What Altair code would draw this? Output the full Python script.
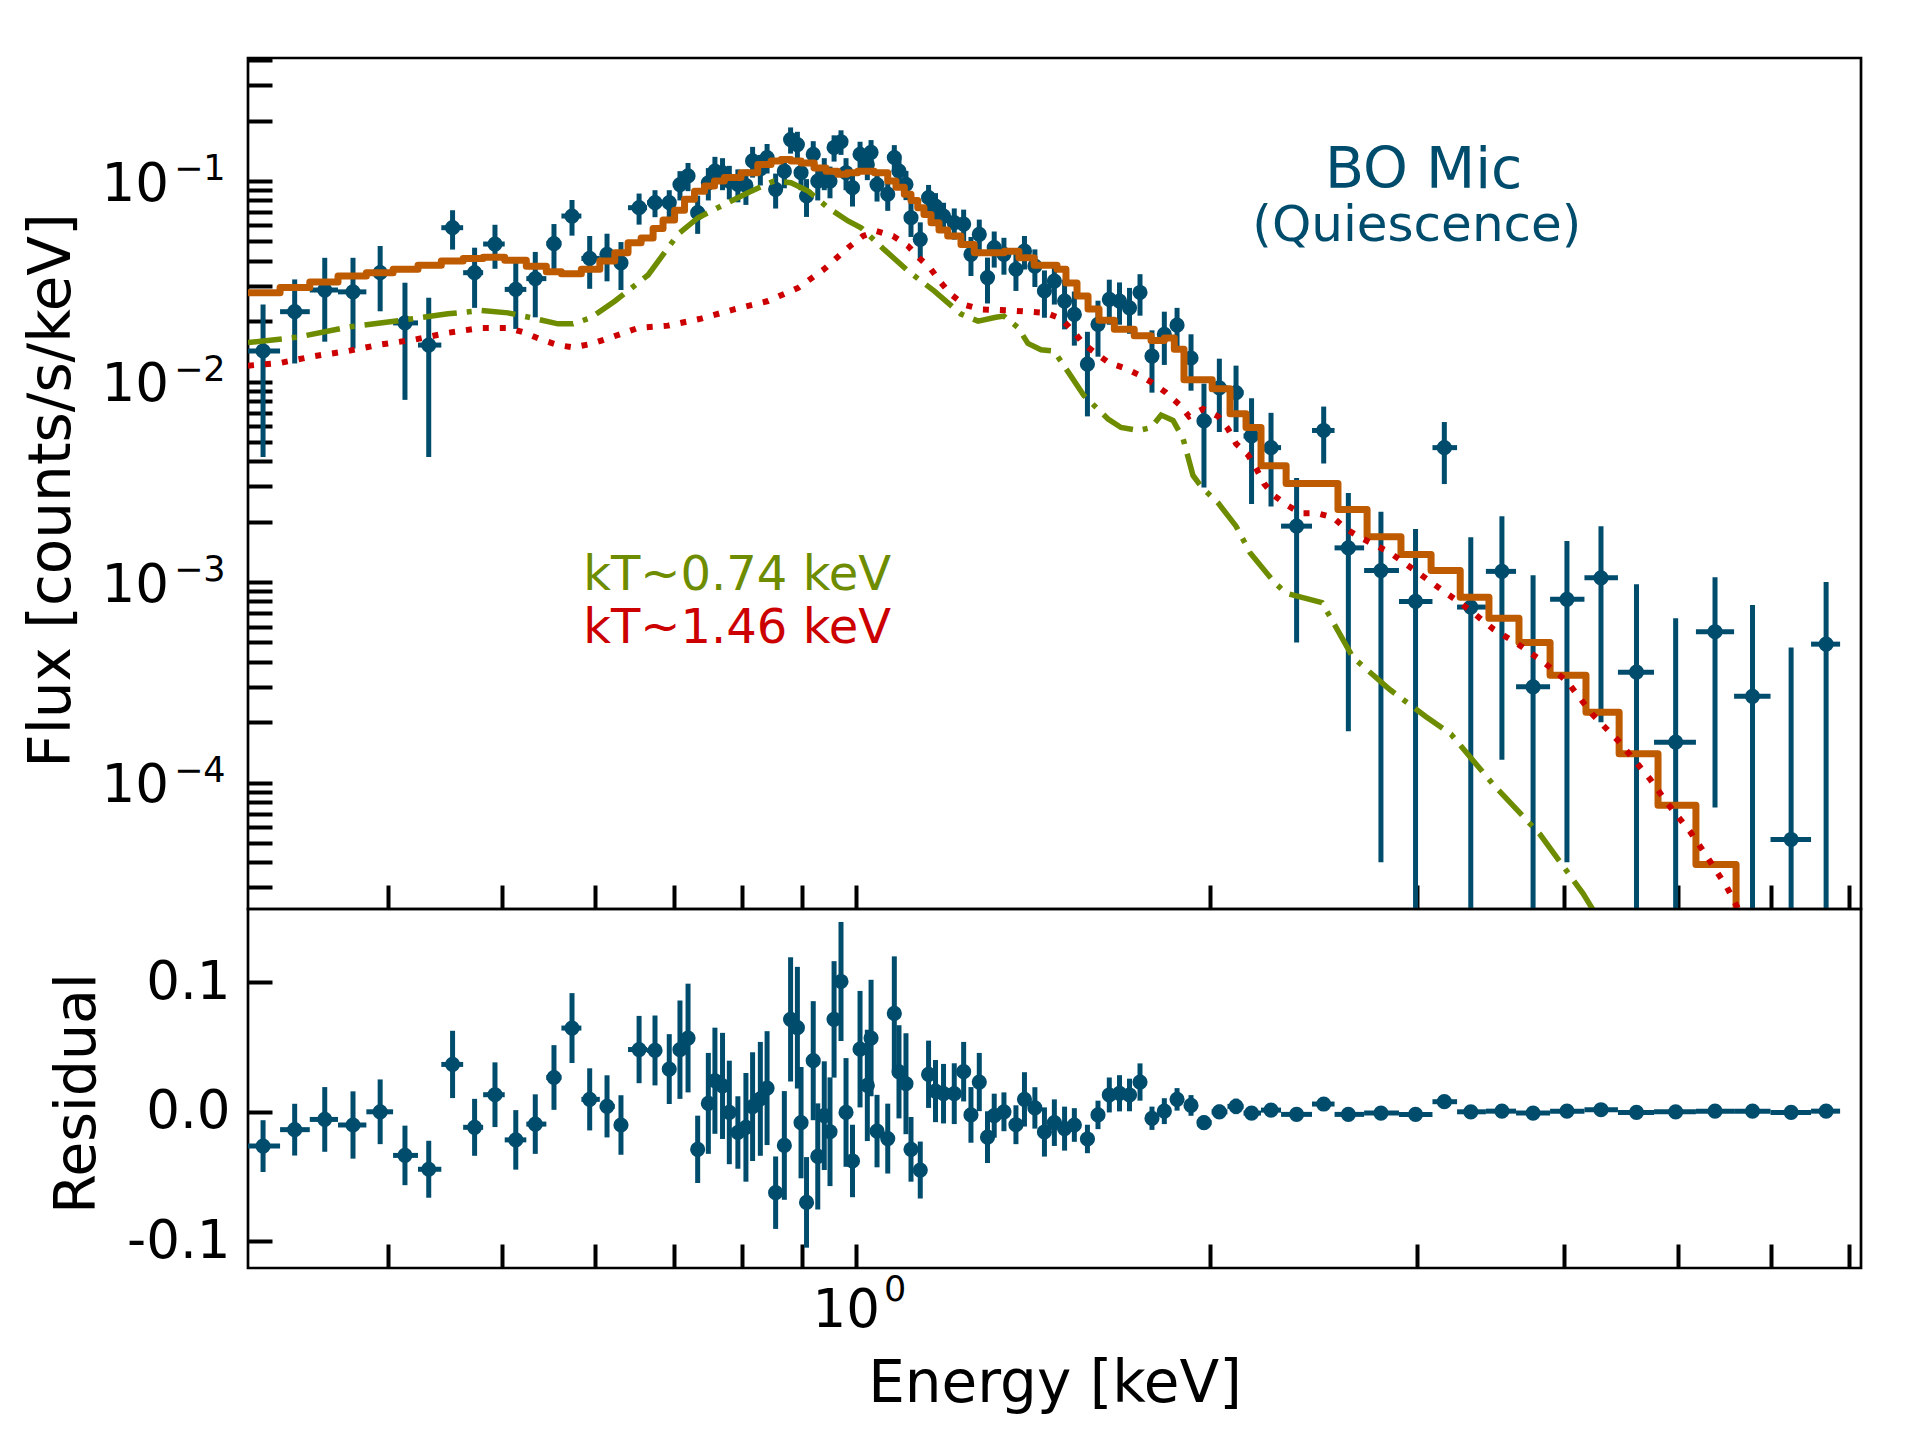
import altair as alt
import numpy as np
import pandas as pd

# ---------------- data ----------------
energy = [0.3130, 0.3330, 0.3532, 0.3733, 0.3937, 0.4133, 0.4330, 0.4537, 0.4737, 0.4930,
          0.5135, 0.5335, 0.5534, 0.5733, 0.5935, 0.6140, 0.6310, 0.6538, 0.6745, 0.6936,
          0.7083, 0.7196, 0.7333, 0.7488, 0.7585, 0.7699, 0.7802, 0.7934, 0.8060, 0.8166,
          0.8291, 0.8401, 0.8543, 0.8690, 0.8797, 0.8915, 0.8979, 0.9076, 0.9196, 0.9278,
          0.9397, 0.9503, 0.9579, 0.9710, 0.9806, 0.9931, 1.0079, 1.0224, 1.0299, 1.0420,
          1.0641, 1.0779, 1.0878, 1.1028, 1.1137, 1.1341, 1.1527, 1.1684, 1.1870, 1.2122,
          1.2347, 1.2525, 1.2731, 1.2938, 1.3109, 1.3361, 1.3679, 1.3909, 1.4196, 1.4464,
          1.4748, 1.5046, 1.5337, 1.5735, 1.6064, 1.6424, 1.6756, 1.7087, 1.7442, 1.7856,
          1.8293, 1.8755, 1.9275, 1.9770, 2.0375, 2.1052, 2.1702, 2.2545, 2.3704, 2.4996,
          2.6233, 2.7962, 2.9923, 3.1659, 3.3343, 3.5440, 3.767, 4.0254, 4.3030, 4.613,
          4.9808, 5.380, 5.790, 6.2448, 6.688]

bin_edges = [0.3039, 0.3236, 0.3430, 0.3625, 0.3832, 0.4038, 0.4240, 0.4438, 0.4632, 0.4817,
             0.5025, 0.5242, 0.5452, 0.5615, 0.5839, 0.6054, 0.6234, 0.6398, 0.6641, 0.6839,
             0.7009, 0.7140, 0.7265, 0.7410, 0.7542, 0.7647, 0.7751, 0.7867, 0.7998, 0.8110,
             0.8230, 0.8342, 0.8466, 0.8615, 0.8743, 0.8857, 0.8943, 0.9026, 0.9138, 0.9236,
             0.9337, 0.9447, 0.9541, 0.9645, 0.9759, 0.9863, 1.0000, 1.0148, 1.0259, 1.0359,
             1.0522, 1.0710, 1.0826, 1.0954, 1.1084, 1.1236, 1.1436, 1.1607, 1.1776, 1.1997,
             1.2235, 1.2442, 1.2624, 1.2838, 1.3025, 1.3234, 1.3521, 1.3789, 1.4060, 1.4338,
             1.4609, 1.4898, 1.5192, 1.5538, 1.5908, 1.6238, 1.6594, 1.6922, 1.7273, 1.7649,
             1.8069, 1.8514, 1.9011, 1.9521, 2.0068, 2.0701, 2.1363, 2.2108, 2.2993, 2.4430,
             2.5533, 2.7055, 2.8967, 3.0932, 3.2458, 3.4345, 3.6434, 3.8946, 4.1658, 4.4484,
             4.7742, 5.1826, 5.5847, 5.9979, 6.4935, 6.8738]

flux = [0.0142, 0.0223, 0.0286, 0.0280, 0.0349, 0.0196, 0.0152, 0.0585, 0.0349, 0.0485,
        0.0288, 0.0326, 0.0487, 0.0669, 0.0411, 0.0431, 0.0391, 0.0736, 0.0780, 0.0780,
        0.0960, 0.1060, 0.0695, 0.0980, 0.1120, 0.1100, 0.1000, 0.0963, 0.0950, 0.1260,
        0.1150, 0.1310, 0.0909, 0.1120, 0.1610, 0.1520, 0.1100, 0.0842, 0.1360, 0.1000,
        0.1100, 0.1000, 0.1470, 0.1570, 0.1100, 0.0926, 0.1360, 0.1210, 0.1390, 0.0960,
        0.0860, 0.1310, 0.1120, 0.0963, 0.0656, 0.0512, 0.0826, 0.0750, 0.0669, 0.0620,
        0.0610, 0.0431, 0.0542, 0.0330, 0.0465, 0.0431, 0.0363, 0.0447, 0.0376, 0.0283,
        0.0317, 0.0252, 0.0216, 0.0122, 0.0193, 0.0257, 0.0252, 0.0233, 0.0278, 0.0134,
        0.0172, 0.0191, 0.0131, 0.00636, 0.0093, 0.0088, 0.00535, 0.00468, 0.0019, 0.0057,
        0.00148, 0.00114, 0.0008, 0.00468, 0.00075, 0.00113, 0.0003, 0.00082, 0.00105, 0.000355,
        0.000159, 0.000565, 0.000269, 0.000052, 0.00049]

flux_err = [0.010, 0.010, 0.0128, 0.0134, 0.0125, 0.0115, 0.011, 0.013, 0.0116, 0.012,
            0.0105, 0.0117, 0.0123, 0.0135, 0.0121, 0.0115, 0.0105, 0.013, 0.012, 0.012,
            0.016, 0.017, 0.015, 0.018, 0.020, 0.020, 0.019, 0.018, 0.019, 0.022,
            0.020, 0.022, 0.018, 0.020, 0.024, 0.024, 0.020, 0.018, 0.022, 0.020,
            0.020, 0.018, 0.022, 0.022, 0.020, 0.018, 0.021, 0.020, 0.021, 0.017,
            0.015, 0.020, 0.018, 0.016, 0.013, 0.011, 0.013, 0.012, 0.011, 0.011,
            0.011, 0.0095, 0.010, 0.0085, 0.0095, 0.009, 0.008, 0.0085, 0.008, 0.0075,
            0.0075, 0.007, 0.0065, 0.0055, 0.006, 0.0065, 0.006, 0.006, 0.0065, 0.0046,
            0.0051, 0.0042, 0.0041, 0.0034, 0.0037, 0.0032, 0.0029, 0.0023, 0.0014, 0.0018,
            0.0013, 0.0011, 0.00104, 0.0016, 0.00092, 0.0010, 0.00078, 0.00078, 0.00085, 0.00062,
            0.0005, 0.00049, 0.0005, 0.00042, 0.00051]

resid = [-0.0265, -0.0138, -0.0059, -0.0102, 0.0000, -0.0337, -0.0444, 0.0366, -0.0120, 0.0132,
         -0.0217, -0.0095, 0.0265, 0.0647, 0.0096, 0.0042, -0.0102, 0.0481, 0.0474, 0.0330,
         0.0480, 0.0570, -0.0290, 0.0065, 0.0240, 0.0200, -0.0005, -0.0160, -0.0120, 0.0040,
         0.0100, 0.0183, -0.0625, -0.0260, 0.0714, 0.0650, -0.0084, -0.0700, 0.0395, -0.0345,
         -0.0030, -0.0154, 0.0714, 0.1007, -0.0005, -0.0380, 0.0484, 0.0204, 0.0570, -0.0149,
         -0.0207, 0.0761, 0.0309, 0.0217, -0.0290, -0.0450, 0.0290, 0.0160, 0.0140, 0.0140,
         0.0310, -0.0024, 0.0230, -0.0196, -0.0030, 0.0000, -0.0100, 0.0096, 0.0030, -0.0156,
         -0.0084, -0.0130, -0.0102, -0.0210, -0.0024, 0.0130, 0.0143, 0.0130, 0.0230, -0.0050,
         0.0005, 0.0096, 0.0049, -0.0084, 0.0000, 0.0042, -0.0010, 0.0013, -0.0020, 0.0060,
         -0.0020, -0.0010, -0.0020, 0.0078, 0.0000, 0.0005, -0.0010, 0.0005, 0.0016, -0.0005,
         0.0000, 0.0005, 0.0005, -0.0005, 0.0005]

resid_err = [0.020, 0.020, 0.025, 0.026, 0.025, 0.023, 0.022, 0.026, 0.022, 0.025,
             0.023, 0.023, 0.025, 0.027, 0.024, 0.024, 0.023, 0.026, 0.027, 0.027,
             0.038, 0.042, 0.026, 0.039, 0.041, 0.041, 0.040, 0.028, 0.042, 0.042,
             0.044, 0.044, 0.028, 0.042, 0.048, 0.047, 0.043, 0.035, 0.046, 0.041,
             0.042, 0.042, 0.045, 0.046, 0.042, 0.028, 0.045, 0.043, 0.045, 0.028,
             0.027, 0.044, 0.036, 0.039, 0.025, 0.022, 0.026, 0.024, 0.023, 0.0235,
             0.023, 0.0215, 0.0225, 0.020, 0.017, 0.015, 0.015, 0.021, 0.016, 0.019,
             0.018, 0.017, 0.013, 0.011, 0.011, 0.0135, 0.014, 0.0126, 0.0144, 0.009,
             0.010, 0.0087, 0.008, 0.0055, 0.0055, 0.006, 0.004, 0.004, 0.003, 0.003,
             0.0025, 0.0022, 0.002, 0.003, 0.0018, 0.002, 0.0015, 0.0015, 0.0015, 0.0012,
             0.001, 0.001, 0.001, 0.0008, 0.001]

# total model (step): start energy of each step and its level
model_E = [0.3039, 0.3236, 0.3430, 0.3625, 0.3832, 0.4038, 0.4240, 0.4438, 0.4632, 0.4817,
           0.5025, 0.5242, 0.5452, 0.5615, 0.5839, 0.6054, 0.6234, 0.6398, 0.6564, 0.6720,
           0.6852, 0.7009, 0.7147, 0.7288, 0.7432, 0.7578, 0.7726, 0.7983, 0.8249, 0.8466,
           0.8633, 0.8804, 0.8979, 0.9215, 0.9430, 0.9647, 0.9824, 1.0033, 1.0366, 1.0641,
           1.0814, 1.0992, 1.1137, 1.1285, 1.1424, 1.1583, 1.1765, 1.1967, 1.2283, 1.2606,
           1.3025, 1.3370, 1.3759, 1.4177, 1.4825, 1.5087, 1.5417, 1.5754, 1.6096, 1.6586,
           1.7246, 1.7824, 1.8293, 1.8655, 1.9011, 2.0091, 2.0806, 2.1468, 2.2108, 2.3222,
           2.5704, 2.7213, 2.9081, 3.0847, 3.2659, 3.4551, 3.6644, 3.8946, 4.1783, 4.4587,
           4.8117, 5.1826, 5.6066, 6.2448]
model_E_end = 7.161
model_flux = [0.0277, 0.0294, 0.0314, 0.0336, 0.0349, 0.0363, 0.0380, 0.0399, 0.0411, 0.0417,
              0.0402, 0.0376, 0.0353, 0.0345, 0.0363, 0.0399, 0.0439, 0.0492, 0.0520, 0.0580,
              0.0640, 0.0714, 0.0810, 0.0890, 0.0944, 0.1000, 0.1040, 0.1100, 0.1210, 0.1260,
              0.1280, 0.1260, 0.1230, 0.1160, 0.1120, 0.1080, 0.1100, 0.1120, 0.1100, 0.1000,
              0.0930, 0.0860, 0.0800, 0.0736, 0.0680, 0.0620, 0.0570, 0.0532, 0.0483, 0.0439,
              0.0439, 0.0447, 0.0414, 0.0380, 0.0363, 0.0310, 0.0267, 0.0230, 0.0202, 0.0182,
              0.0169, 0.0160, 0.0165, 0.0145, 0.0102, 0.0092, 0.0069, 0.0059, 0.0038, 0.0031,
              0.0023, 0.00168, 0.00137, 0.00114, 0.00084, 0.00066, 0.0005, 0.000343, 0.000224, 0.000139,
              0.000077, 0.000039, 0.000016, 0.000008]

# cooler component kT~0.74 keV (dash-dot)
comp1_E = [0.3039, 0.3351, 0.3697, 0.4078, 0.4496, 0.4797, 0.5058, 0.5291, 0.5578, 0.5745,
           0.5950, 0.6237, 0.6655, 0.7057, 0.7339, 0.7676, 0.8092, 0.8514, 0.8804, 0.9103,
           0.9467, 0.9845, 1.0099, 1.0564, 1.1072, 1.1652, 1.2283, 1.2700, 1.3151, 1.3361,
           1.3733, 1.4004, 1.4367, 1.4737, 1.5146, 1.5631, 1.6383, 1.6804, 1.7402, 1.7824,
           1.8178, 1.8607, 1.8975, 1.9350, 1.9656, 2.0324, 2.1052, 2.1637, 2.2678, 2.3222,
           2.4912, 2.6478, 2.8467, 3.0543, 3.2077, 3.4880, 3.8197, 4.1535, 4.3030]
comp1_flux = [0.01563, 0.01665, 0.01869, 0.0201, 0.02175, 0.0226, 0.0220, 0.0208, 0.0194, 0.0194,
              0.0208, 0.0252, 0.0340, 0.0543, 0.0656, 0.0750, 0.0874, 0.1000, 0.0980, 0.0892,
              0.0736, 0.0632, 0.0585, 0.0456, 0.0356, 0.0283, 0.0217, 0.0200, 0.0209, 0.0212,
              0.0186, 0.0155, 0.0144, 0.0142, 0.0112, 0.0085, 0.0065, 0.0059, 0.0057, 0.0059,
              0.0068, 0.0064, 0.0052, 0.0034, 0.0030, 0.00248, 0.0019, 0.0014, 0.0010, 0.00088,
              0.00079, 0.00042, 0.00029, 0.000213, 0.000174, 0.000097, 0.000055, 0.000028, 0.000020]

# hotter component kT~1.46 keV (dotted)
comp2_E = [0.3039, 0.3241, 0.3465, 0.3697, 0.3944, 0.4215, 0.4496, 0.4797, 0.5058, 0.5229,
           0.5395, 0.5578, 0.5745, 0.5950, 0.6151, 0.6525, 0.6920, 0.7381, 0.7873, 0.8415,
           0.8927, 0.9393, 0.9863, 1.0139, 1.0399, 1.0752, 1.1072, 1.1315, 1.1583, 1.1811,
           1.2044, 1.2355, 1.2773, 1.3547, 1.4506, 1.4941, 1.5296, 1.5599, 1.6003, 1.6414,
           1.6904, 1.7402, 1.7894, 1.8355, 1.8827, 1.9199, 1.9733, 2.0324, 2.0725, 2.1052,
           2.1552, 2.1892, 2.2238, 2.2678, 2.3313, 2.3909, 2.4717, 2.5457, 2.6115, 2.6791,
           2.8467, 2.9834, 3.1702, 3.3228, 3.4880, 3.6577, 3.8418, 4.0254, 4.2276, 4.4575,
           4.6261, 4.7370, 4.9068, 5.1230, 5.3065, 5.5081, 5.6610]
comp2_flux = [0.0120, 0.0124, 0.0134, 0.0142, 0.0153, 0.0162, 0.0175, 0.0185, 0.0185, 0.0175,
              0.0162, 0.0152, 0.0148, 0.0154, 0.0164, 0.0185, 0.0190, 0.0206, 0.0229, 0.0252,
              0.0293, 0.0363, 0.0469, 0.0532, 0.0563, 0.0532, 0.0474, 0.0414, 0.0363, 0.0311,
              0.0272, 0.0242, 0.0229, 0.0226, 0.0220, 0.0206, 0.0179, 0.0155, 0.0138, 0.0124,
              0.0117, 0.0108, 0.0098, 0.0088, 0.0077, 0.0067, 0.0073, 0.0067, 0.0058, 0.0049,
              0.0043, 0.0037, 0.0031, 0.0027, 0.0024, 0.0022, 0.0022, 0.0021, 0.00184, 0.00168,
              0.0014, 0.00115, 0.00089, 0.00073, 0.00058, 0.00049, 0.00040, 0.00032, 0.00022, 0.00016,
              0.000123, 0.000104, 0.000078, 0.000057, 0.000042, 0.000030, 0.000022]

# ticks and tick labels
x_tick_values = [0.4, 0.5, 0.6, 0.7, 0.8, 0.9, 1, 2, 3, 4, 5, 6, 7]
x_label_values = [1.0]
x_label_exponents = ["0"]
flux_tick_values = [3e-5, 4e-5, 5e-5, 6e-5, 7e-5, 8e-5, 9e-5,
                    1e-4, 2e-4, 3e-4, 4e-4, 5e-4, 6e-4, 7e-4, 8e-4, 9e-4,
                    1e-3, 2e-3, 3e-3, 4e-3, 5e-3, 6e-3, 7e-3, 8e-3, 9e-3,
                    1e-2, 2e-2, 3e-2, 4e-2, 5e-2, 6e-2, 7e-2, 8e-2, 9e-2,
                    0.1, 0.2, 0.3, 0.4]
flux_label_values = [1e-4, 1e-3, 1e-2, 1e-1]
flux_label_exponents = ["\u22124", "\u22123", "\u22122", "\u22121"]
resid_tick_values = [-0.1, 0.0, 0.1]
resid_tick_labels = {-0.1: "-0.1", 0.0: "0.0", 0.1: "0.1"}

# ---------------- styling ----------------
TEAL = "#004c6d"
ORANGE = "#be5a00"
OLIVE = "#6e8c00"
RED = "#cc0000"
FONT = "DejaVu Sans"
W, H1, H2 = 1613, 851, 359
TICK, TW = 24, 4
LBL, SUP, TTL = 53, 35, 58

pts = pd.DataFrame({"E": energy, "E_lo": bin_edges[:-1], "E_hi": bin_edges[1:],
                    "F": flux, "dF": flux_err, "R": resid, "dR": resid_err})
pts["F_lo"] = np.maximum(pts["F"] - pts["dF"], 1e-9)
pts["F_hi"] = pts["F"] + pts["dF"]
pts["R_lo"] = pts["R"] - pts["dR"]
pts["R_hi"] = pts["R"] + pts["dR"]

tot = pd.DataFrame({"E": model_E + [model_E_end], "F": model_flux + [model_flux[-1]]})
c1 = pd.DataFrame({"E": comp1_E, "F": comp1_flux})
c2 = pd.DataFrame({"E": comp2_E, "F": comp2_flux})
ylab = pd.DataFrame({"F": flux_label_values, "exp": flux_label_exponents})
xlab = pd.DataFrame({"E": x_label_values, "exp": x_label_exponents})


def label_expr(mapping):
    parts = [f"datum.value == {k} ? '{v}'" for k, v in mapping.items()]
    return " : ".join(parts) + " : ''"


xs = alt.Scale(type="log", domain=[0.3039, 7.161], nice=False)
ys = alt.Scale(type="log", domain=[2.34e-5, 0.4107], nice=False)
rs = alt.Scale(type="linear", domain=[-0.1207, 0.1567], nice=False, zero=False)

common = dict(tickSize=TICK, tickWidth=TW, tickColor="black", offset=-TICK,
              domain=False, grid=False)

AX_FX = alt.Axis(values=x_tick_values, labels=False, title=None, **common)
AX_FY = alt.Axis(values=flux_tick_values, labels=False, title="Flux [counts/s/keV]",
                 titleFontSize=TTL, titleFontWeight="normal", titleAngle=270,
                 titleAlign="center", titleBaseline="alphabetic", titleX=-203, titleY=432,
                 **common)
AX_RX = alt.Axis(values=x_tick_values, labels=False, title="Energy [keV]",
                 titleFontSize=TTL, titleFontWeight="normal", titleBaseline="alphabetic",
                 titleY=157, **common)
AX_RY = alt.Axis(values=resid_tick_values, labelExpr=label_expr(resid_tick_labels),
                 labelFontSize=LBL, labelPadding=18, labelOverlap=False, labelFlush=False,
                 title="Residual",
                 titleFontSize=57, titleFontWeight="normal", titleAngle=270,
                 titleAlign="center", titleBaseline="alphabetic", titleX=-178, titleY=184,
                 **common)


def fx(f):
    return alt.X(f, type="quantitative", scale=xs, axis=AX_FX)


def fy(f):
    return alt.Y(f, type="quantitative", scale=ys, axis=AX_FY)


def rx(f):
    return alt.X(f, type="quantitative", scale=xs, axis=AX_RX)


def ry(f):
    return alt.Y(f, type="quantitative", scale=rs, axis=AX_RY)


base = alt.Chart(pts)
f_xerr = base.mark_rule(color=TEAL, strokeWidth=5, clip=True).encode(
    x=fx("E_lo"), x2=alt.X2("E_hi"), y=fy("F"))
f_yerr = base.mark_rule(color=TEAL, strokeWidth=5, clip=True).encode(
    x=fx("E"), y=fy("F_lo"), y2=alt.Y2("F_hi"))
f_dots = base.mark_circle(size=230, color=TEAL, opacity=1, clip=True).encode(
    x=fx("E"), y=fy("F"))
l_tot = alt.Chart(tot).mark_line(interpolate="step-after", color=ORANGE, strokeWidth=7,
                                 strokeJoin="round", clip=True).encode(x=fx("E"), y=fy("F"))
l_c1 = alt.Chart(c1).mark_line(color=OLIVE, strokeWidth=5.5, strokeDash=[34, 10, 5, 10],
                               clip=True).encode(x=fx("E"), y=fy("F"))
l_c2 = alt.Chart(c2).mark_line(color=RED, strokeWidth=6, strokeDash=[6, 11],
                               clip=True).encode(x=fx("E"), y=fy("F"))


def txt(e, f, s, size, color, align):
    return alt.Chart(pd.DataFrame({"E": [e], "F": [f]})).mark_text(
        text=s, font=FONT, fontSize=size, color=color, align=align,
        baseline="alphabetic").encode(x=fx("E"), y=fy("F"))


t1 = txt(3.04, 0.0923, "BO Mic", 57, TEAL, "center")
t2 = txt(3.00, 0.0502, "(Quiescence)", 50, TEAL, "center")
t3 = txt(0.586, 9.1e-4, "kT~0.74 keV", 48, OLIVE, "left")
t4 = txt(0.586, 4.95e-4, "kT~1.46 keV", 48, RED, "left")

# decade tick labels of the flux axis: "10" with a raised exponent
y10 = alt.Chart(ylab).mark_text(text="10", font=FONT, fontSize=LBL, color="black",
                                align="right", baseline="alphabetic", dx=-79, dy=19.5
                                ).encode(x=alt.value(0), y=fy("F"))
yexp = alt.Chart(ylab).mark_text(font=FONT, fontSize=SUP, color="black",
                                 align="left", baseline="alphabetic", dx=-74, dy=-1
                                 ).encode(x=alt.value(0), y=fy("F"), text="exp:N")

upper = alt.layer(f_xerr, f_yerr, f_dots, l_tot, l_c1, l_c2, t1, t2, t3, t4,
                  y10, yexp).properties(width=W, height=H1)

r_xerr = base.mark_rule(color=TEAL, strokeWidth=5).encode(
    x=rx("E_lo"), x2=alt.X2("E_hi"), y=ry("R"))
r_yerr = base.mark_rule(color=TEAL, strokeWidth=5).encode(
    x=rx("E"), y=ry("R_lo"), y2=alt.Y2("R_hi"))
r_dots = base.mark_circle(size=230, color=TEAL, opacity=1).encode(x=rx("E"), y=ry("R"))

x10 = alt.Chart(xlab).mark_text(text="10", font=FONT, fontSize=LBL, color="black",
                                align="right", baseline="alphabetic", dx=24, dy=59
                                ).encode(x=rx("E"), y=alt.value(H2))
xexp = alt.Chart(xlab).mark_text(font=FONT, fontSize=SUP, color="black",
                                 align="left", baseline="alphabetic", dx=28, dy=33
                                 ).encode(x=rx("E"), y=alt.value(H2), text="exp:N")

lower = alt.layer(r_xerr, r_yerr, r_dots, x10, xexp).properties(width=W, height=H2)

chart = alt.vconcat(upper, lower, spacing=0, bounds="flush").properties(
    padding={"left": 13, "top": 48, "right": 10, "bottom": 4}
).configure_view(stroke="black", strokeWidth=2.7).configure_axis(
    labelFont=FONT, titleFont=FONT, labelColor="black", titleColor="black")

chart.save("out.html", embed_options={"renderer": "svg", "actions": False})
